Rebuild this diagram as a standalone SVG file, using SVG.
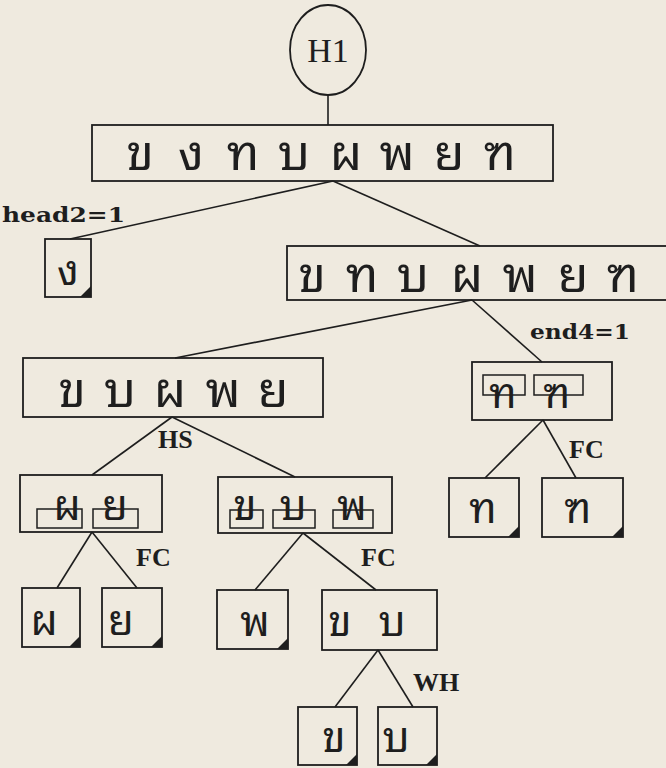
<svg xmlns="http://www.w3.org/2000/svg" width="666" height="768" viewBox="0 0 666 768">
<style>
.bx{fill:none;stroke:#1e1e1e;stroke-width:1.8}
.ln{fill:none;stroke:#1e1e1e;stroke-width:1.6}
.in{fill:none;stroke:#1e1e1e;stroke-width:1.5}
.th{font-family:"Noto Sans Thai Looped","Noto Serif Thai","Garuda","Loma","Norasi","Kinnari","Tlwg Typo","Noto Sans Thai","Noto Sans",sans-serif;fill:#1e1e1e;text-anchor:middle}
.big{font-size:50px}
.sm{font-size:42px}
.lbl{font-family:"DejaVu Serif","Liberation Serif",serif;font-weight:bold;font-size:21px;fill:#1e1e1e}
.tag{font-family:"Liberation Serif",serif;font-weight:bold;font-size:26px;fill:#1e1e1e}
.cn{fill:#1e1e1e}
</style>
<rect x="0" y="0" width="666" height="768" fill="#efeadf"/>
<g id="connectors">
<line class="ln" x1="328" y1="95" x2="328" y2="125"/>
<line class="ln" x1="333" y1="181" x2="70" y2="239"/>
<line class="ln" x1="333" y1="181" x2="480" y2="246"/>
<line class="ln" x1="472" y1="300" x2="175" y2="358"/>
<line class="ln" x1="472" y1="300" x2="542" y2="362"/>
<line class="ln" x1="172" y1="417" x2="92" y2="475"/>
<line class="ln" x1="172" y1="417" x2="295" y2="477"/>
<line class="ln" x1="543" y1="420" x2="485" y2="478"/>
<line class="ln" x1="543" y1="420" x2="576" y2="478"/>
<line class="ln" x1="92" y1="532" x2="57" y2="588"/>
<line class="ln" x1="92" y1="532" x2="137" y2="588"/>
<line class="ln" x1="303" y1="533" x2="255" y2="590"/>
<line class="ln" x1="303" y1="533" x2="376" y2="590"/>
<line class="ln" x1="378" y1="650" x2="335" y2="707"/>
<line class="ln" x1="378" y1="650" x2="413" y2="707"/>
</g>
<g id="labels">
<text class="lbl" x="2" y="222" textLength="123" lengthAdjust="spacingAndGlyphs">head2=1</text>
<text class="lbl" x="530" y="339" textLength="100" lengthAdjust="spacingAndGlyphs">end4=1</text>
<text class="tag" x="158" y="448">HS</text>
<text class="tag" x="569" y="458">FC</text>
<text class="tag" x="136" y="566">FC</text>
<text class="tag" x="361" y="566">FC</text>
<text class="tag" x="413" y="691">WH</text>
</g>
<g id="n-h1">
<ellipse class="bx" cx="328" cy="50" rx="38" ry="45"/>
<text x="328" y="62" font-family="Liberation Serif, serif" font-size="34" text-anchor="middle" fill="#1e1e1e">H1</text>
</g>
<g id="n-root">
<rect class="bx" x="92" y="125" width="461" height="56"/>
<text class="th big" x="140 191 243 294 346 397 449 500" y="170">ขงทบผพยฑ</text>
</g>
<g id="n-ngo">
<rect class="bx" x="45" y="239" width="46" height="58"/>
<text class="th sm" x="68" y="285">ง</text>
<polygon class="cn" points="91,286 91,297 80,297"/>
</g>
<g id="n-rest">
<rect class="bx" x="287" y="246" width="400" height="54"/>
<text class="th big" x="312 362 413 467 520 573 623" y="292">ขทบผพยฑ</text>
</g>
<g id="n-five">
<rect class="bx" x="23" y="358" width="300" height="59"/>
<text class="th big" x="72 120 170 223 273" y="407">ขบผพย</text>
</g>
<g id="n-tt">
<rect class="bx" x="472" y="362" width="140" height="58"/>
<rect class="in" x="483" y="375" width="42" height="20"/>
<rect class="in" x="534" y="375" width="49" height="20"/>
<text class="th sm" x="503 557" y="408">ทฑ</text>
</g>
<g id="n-py">
<rect class="bx" x="20" y="475" width="142" height="57"/>
<rect class="in" x="37" y="509" width="45" height="19"/>
<rect class="in" x="93" y="509" width="45" height="19"/>
<text class="th sm" x="67 115" y="520">ผย</text>
</g>
<g id="n-kbp">
<rect class="bx" x="218" y="477" width="174" height="56"/>
<rect class="in" x="230" y="510" width="33" height="18"/>
<rect class="in" x="273" y="510" width="42" height="18"/>
<rect class="in" x="333" y="510" width="40" height="18"/>
<text class="th sm" x="245 293 352" y="520">ขบพ</text>
</g>
<g id="n-tho">
<rect class="bx" x="449" y="478" width="70" height="59"/>
<text class="th sm" x="483" y="523">ท</text>
<polygon class="cn" points="519,526 519,537 508,537"/>
</g>
<g id="n-tho2">
<rect class="bx" x="542" y="478" width="81" height="59"/>
<text class="th sm" x="578" y="523">ฑ</text>
<polygon class="cn" points="623,526 623,537 612,537"/>
</g>
<g id="n-pho">
<rect class="bx" x="22" y="588" width="58" height="59"/>
<text class="th sm" x="44" y="635">ผ</text>
<polygon class="cn" points="80,636 80,647 69,647"/>
</g>
<g id="n-yo">
<rect class="bx" x="102" y="588" width="60" height="59"/>
<text class="th sm" x="121" y="635">ย</text>
<polygon class="cn" points="162,636 162,647 151,647"/>
</g>
<g id="n-pho2">
<rect class="bx" x="217" y="590" width="71" height="59"/>
<text class="th sm" x="255" y="636">พ</text>
<polygon class="cn" points="288,638 288,649 277,649"/>
</g>
<g id="n-kb">
<rect class="bx" x="322" y="590" width="115" height="60"/>
<text class="th sm" x="340 392" y="636">ขบ</text>
</g>
<g id="n-kho">
<rect class="bx" x="298" y="707" width="59" height="58"/>
<text class="th sm" x="334" y="752">ข</text>
<polygon class="cn" points="357,754 357,765 346,765"/>
</g>
<g id="n-bo">
<rect class="bx" x="378" y="707" width="59" height="58"/>
<text class="th sm" x="396" y="752">บ</text>
<polygon class="cn" points="437,754 437,765 426,765"/>
</g>
</svg>
